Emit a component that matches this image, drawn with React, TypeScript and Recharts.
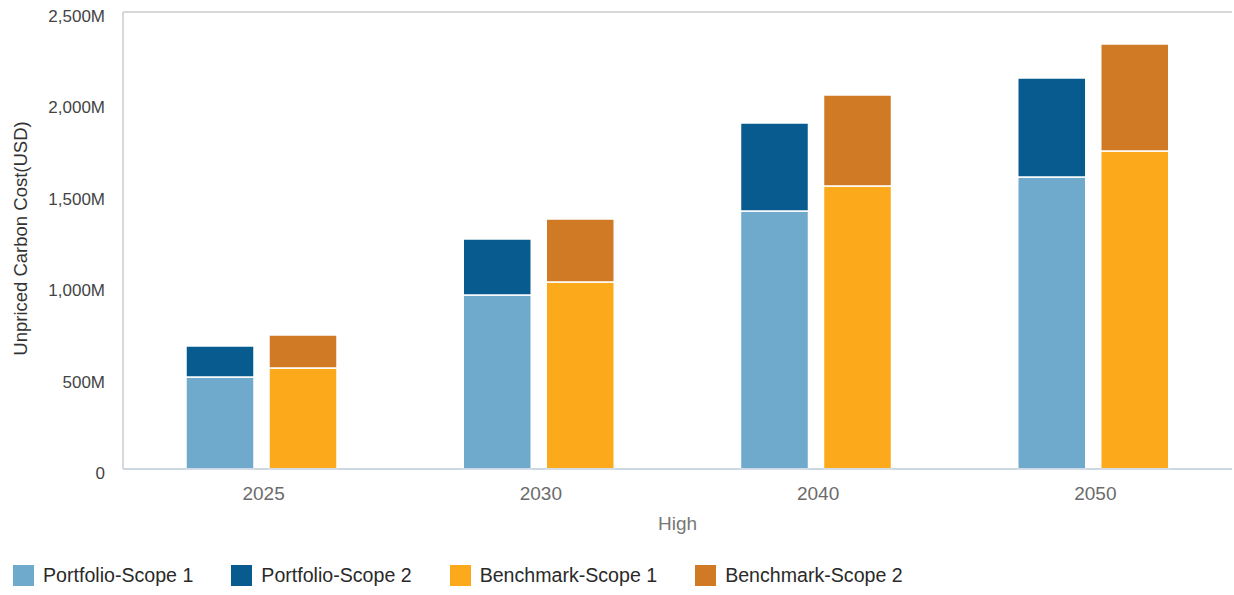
import React from 'react';
import { BarChart, Bar, XAxis, YAxis, CartesianGrid, Legend } from 'recharts';

const years = ['2025', '2030', '2040', '2050'];
const portfolioScope1 = [503, 952, 1411, 1597];
const portfolioScope2 = [170, 306, 482, 542];
const benchmarkScope1 = [552, 1023, 1548, 1740];
const benchmarkScope2 = [181, 345, 498, 585];
const yTicks = [0, 500, 1000, 1500, 2000, 2500];

const seriesNames = ['Portfolio-Scope 1', 'Portfolio-Scope 2', 'Benchmark-Scope 1', 'Benchmark-Scope 2'];
const seriesColors = ['#6fa9cc', '#075b8f', '#fca91b', '#d17a26'];

const data = years.map((y, i) => ({
  year: y,
  p1: portfolioScope1[i],
  p2: portfolioScope2[i],
  b1: benchmarkScope1[i],
  b2: benchmarkScope2[i],
}));

const FONT = '"Liberation Sans", Arial, Helvetica, sans-serif';

const fmt = (v: number) => (v === 0 ? '0' : v.toLocaleString('en-US') + 'M');

const LegendContent = () => (
  <div style={{ display: 'flex', alignItems: 'center', height: 40, paddingLeft: 13, fontFamily: FONT }}>
    {seriesNames.map((n, i) => (
      <div key={n} style={{ display: 'flex', alignItems: 'center', marginRight: 38 }}>
        <div style={{ width: 21, height: 21, background: seriesColors[i], marginRight: 9 }} />
        <span style={{ fontSize: 19.6, color: '#2a2a2a' }}>{n}</span>
      </div>
    ))}
  </div>
);

const YLabel = (props: any) => {
  const vb = props.viewBox || { x: 0, y: 0, width: 0, height: 0 };
  const cx = vb.x + 20;
  const cy = vb.y + vb.height / 2 - 2;
  return (
    <text
      x={cx}
      y={cy}
      transform={`rotate(-90 ${cx} ${cy})`}
      textAnchor="middle"
      dominantBaseline="central"
      fontSize={18.5}
      fill="#333"
      fontFamily={FONT}
    >
      Unpriced Carbon Cost(USD)
    </text>
  );
};

export default function App() {
  return (
    <div style={{ position: 'absolute', left: 0, top: 0, width: 1234, height: 595, background: '#fff' }}>
      <BarChart
        width={1234}
        height={595}
        data={data}
        margin={{ top: 12, right: 2, bottom: 0, left: 0 }}
        barGap={15}
        barSize={68}
      >
        <CartesianGrid vertical={false} stroke="#cccccc" strokeWidth={1.5} />
        <XAxis
          dataKey="year"
          height={86}
          tickLine={false}
          tickSize={0}
          tickMargin={18}
          axisLine={{ stroke: '#c8d6e4', strokeWidth: 1.5 }}
          tick={{ fontSize: 19, fill: '#6b6b6b', fontFamily: FONT, dx: 2 }}
          label={{ value: 'High', position: 'insideTop', offset: 48, fontSize: 19, fill: '#777', fontFamily: FONT }}
        />
        <YAxis
          yAxisId="left"
          width={123}
          domain={[0, 2500]}
          ticks={yTicks}
          tickFormatter={fmt}
          tickLine={false}
          tickSize={0}
          tickMargin={18}
          axisLine={{ stroke: '#cccccc', strokeWidth: 1.5 }}
          tick={{ fontSize: 17, fill: '#444', fontFamily: FONT, dy: 4 }}
          label={<YLabel />}
        />
        <YAxis
          yAxisId="right"
          orientation="right"
          width={0}
          domain={[0, 2500]}
          tick={false}
          tickLine={false}
          axisLine={{ stroke: '#cccccc', strokeWidth: 1.5 }}
        />
        <Legend verticalAlign="bottom" height={40} wrapperStyle={{ height: 40 }} content={<LegendContent />} />
        <Bar yAxisId="left" dataKey="p1" name={seriesNames[0]} stackId="p" fill={seriesColors[0]} stroke="#fff" strokeWidth={1.5} isAnimationActive={false} />
        <Bar yAxisId="left" dataKey="p2" name={seriesNames[1]} stackId="p" fill={seriesColors[1]} stroke="#fff" strokeWidth={1.5} isAnimationActive={false} />
        <Bar yAxisId="left" dataKey="b1" name={seriesNames[2]} stackId="b" fill={seriesColors[2]} stroke="#fff" strokeWidth={1.5} isAnimationActive={false} />
        <Bar yAxisId="left" dataKey="b2" name={seriesNames[3]} stackId="b" fill={seriesColors[3]} stroke="#fff" strokeWidth={1.5} isAnimationActive={false} />
      </BarChart>
    </div>
  );
}
